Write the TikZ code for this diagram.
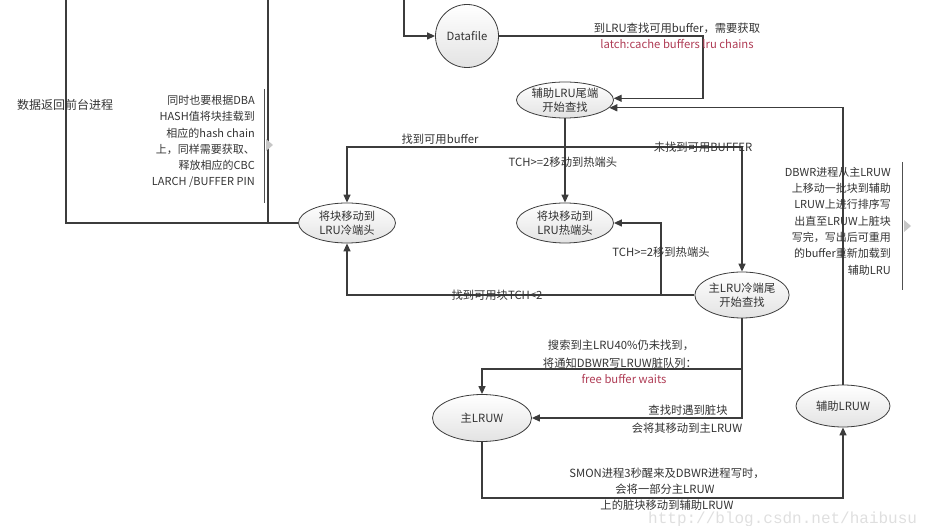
\documentclass[tikz,border=0pt]{standalone}
\usepackage{fontspec}
\setmainfont{Noto Sans CJK SC}
\newfontfamily\wmfont{Liberation Mono}
\usetikzlibrary{arrows.meta,shapes.geometric,calc}
\definecolor{ln}{HTML}{3C3C3C}
\definecolor{tx}{HTML}{333333}
\definecolor{rd}{RGB}{175,60,85}
\definecolor{br}{HTML}{505050}
\begin{document}
\begin{tikzpicture}[x=1pt,y=-1pt,
  every node/.style={font=\fontsize{11.3pt}{14pt}\selectfont, text=tx},
  conn/.style={draw=ln, line width=1.3pt},
  arr/.style={conn, -{Triangle[length=8pt,width=7pt]}},
  bub/.style={ellipse, draw=ln, line width=0.8pt, top color=white, bottom color=gray!22, inner sep=0pt, align=center},
  lbl/.style={inner sep=1pt, align=center},
  redlbl/.style={lbl, text=rd},
  note/.style={inner sep=0pt, align=right, font=\fontsize{11pt}{16.3pt}\selectfont},
  brk/.style={draw=br, line width=0.9pt},
  tri/.style={fill=gray!45, draw=none}
]
\useasboundingbox (0,0) rectangle (927,526);

% nodes
\node[circle, draw=ln, line width=0.8pt, top color=white, bottom color=gray!22, minimum size=63pt, inner sep=0pt] (datafile) at (467,36) {Datafile};
\node[bub, minimum width=97pt, minimum height=36pt] (aux) at (565,100) {辅助LRU尾端\\开始查找};
\node[bub, minimum width=97pt, minimum height=40pt] (hot) at (565,223) {将块移动到\\LRU热端头};
\node[bub, minimum width=97pt, minimum height=40pt] (cold) at (347,223) {将块移动到\\LRU冷端头};
\node[bub, minimum width=87pt, minimum height=46pt] (main) at (742,295) {主LRU冷端尾\\开始查找};
\node[bub, minimum width=99pt, minimum height=47pt] (lruw) at (482,418) {主LRUW};
\node[bub, minimum width=94pt, minimum height=42pt] (auxw) at (843,406) {辅助LRUW};

% free ends / bends
\coordinate (t1) at (66,0);
\coordinate (t2) at (268,0);
\coordinate (t3) at (404,0);
\coordinate (c1) at (703,36);
\coordinate (b1) at (565,147);
\coordinate (b2) at (661,295);
\coordinate (b3) at (742,369);
\coordinate (b4) at (482,498);

% connectors
\draw[conn] (cold.west) -| (t1);
\draw[conn] (cold.west) -| (t2);
\draw[arr] (t3) |- (datafile.west);
\draw[arr] (datafile.east) -- (c1) |- (aux.2);
\draw[arr] (auxw.north) |- (aux.-10);
\draw[arr] (aux.south) -- (hot.north);
\draw[arr] (b1) -| (cold.north);
\draw[arr] (b1) -| (main.north);
\draw[arr] (main.west) -| (cold.south);
\draw[arr] (b2) |- (hot.east);
\draw[arr] (main.south) -- (b3) -| (lruw.north);
\draw[arr] (b3) |- (lruw.east);
\draw[arr] (lruw.south) -- (b4) -| (auxw.south);

% labels
\node[lbl] (l1) at (677,28) {到LRU查找可用buffer，需要获取};
\node[redlbl] (l2) at (677,44) {latch:cache buffers lru chains};
\node[lbl] (l3) at (440,139) {找到可用buffer};
\node[lbl] (l4) at (563,162) {TCH>=2移动到热端头};
\node[lbl] (l5) at (703,147) {未找到可用BUFFER};
\node[lbl] (l6) at (661,252) {TCH>=2移到热端头};
\node[lbl] (l7) at (497,295) {找到可用块TCH<2};
\node[lbl] (l8) at (621,345) {搜索到主LRU40\%仍未找到，};
\node[lbl] (l9) at (620,363) {将通知DBWR写LRUW脏队列：};
\node[redlbl] (l10) at (624,379) {free buffer waits};
\node[lbl] (l11) at (688,410) {查找时遇到脏块};
\node[lbl] (l12) at (687,428) {会将其移动到主LRUW};
\node[lbl] (l13) at (667,473) {SMON进程3秒醒来及DBWR进程写时，};
\node[lbl] (l14) at (665,489) {会将一部分主LRUW};
\node[lbl] (l15) at (667,505) {上的脏块移动到辅助LRUW};
\node[lbl, font=\fontsize{12pt}{14pt}\selectfont] (l16) at (65,105) {数据返回前台进程};

% notes with brackets
\node[note, anchor=north east] (n1) at (255,95) {同时也要根据DBA\\HASH值将块挂载到\\相应的hash chain\\上，同样需要获取、\\释放相应的CBC\\LARCH /BUFFER PIN};
\draw[brk] (264,89) -- (264,203);
\fill[tri] (266,139) -- (273,145) -- (266,151) -- cycle;

\node[note, anchor=north east] (n2) at (891,167) {DBWR进程从主LRUW\\上移动一批块到辅助\\LRUW上进行排序写\\出直至LRUW上脏块\\写完，写出后可重用\\的buffer重新加载到\\辅助LRU};
\draw[brk] (902,162) -- (902,290);
\fill[tri] (904,220) -- (911,226) -- (904,232) -- cycle;

% watermark
\begin{scope}
\clip (0,0) rectangle (927,526);
\node[anchor=west, inner sep=0pt, text=gray!25, font=\wmfont\fontsize{16pt}{16pt}\selectfont] (wm) at (648,519) {http://blog.csdn.net/haibusu};
\end{scope}
\end{tikzpicture}
\end{document}
